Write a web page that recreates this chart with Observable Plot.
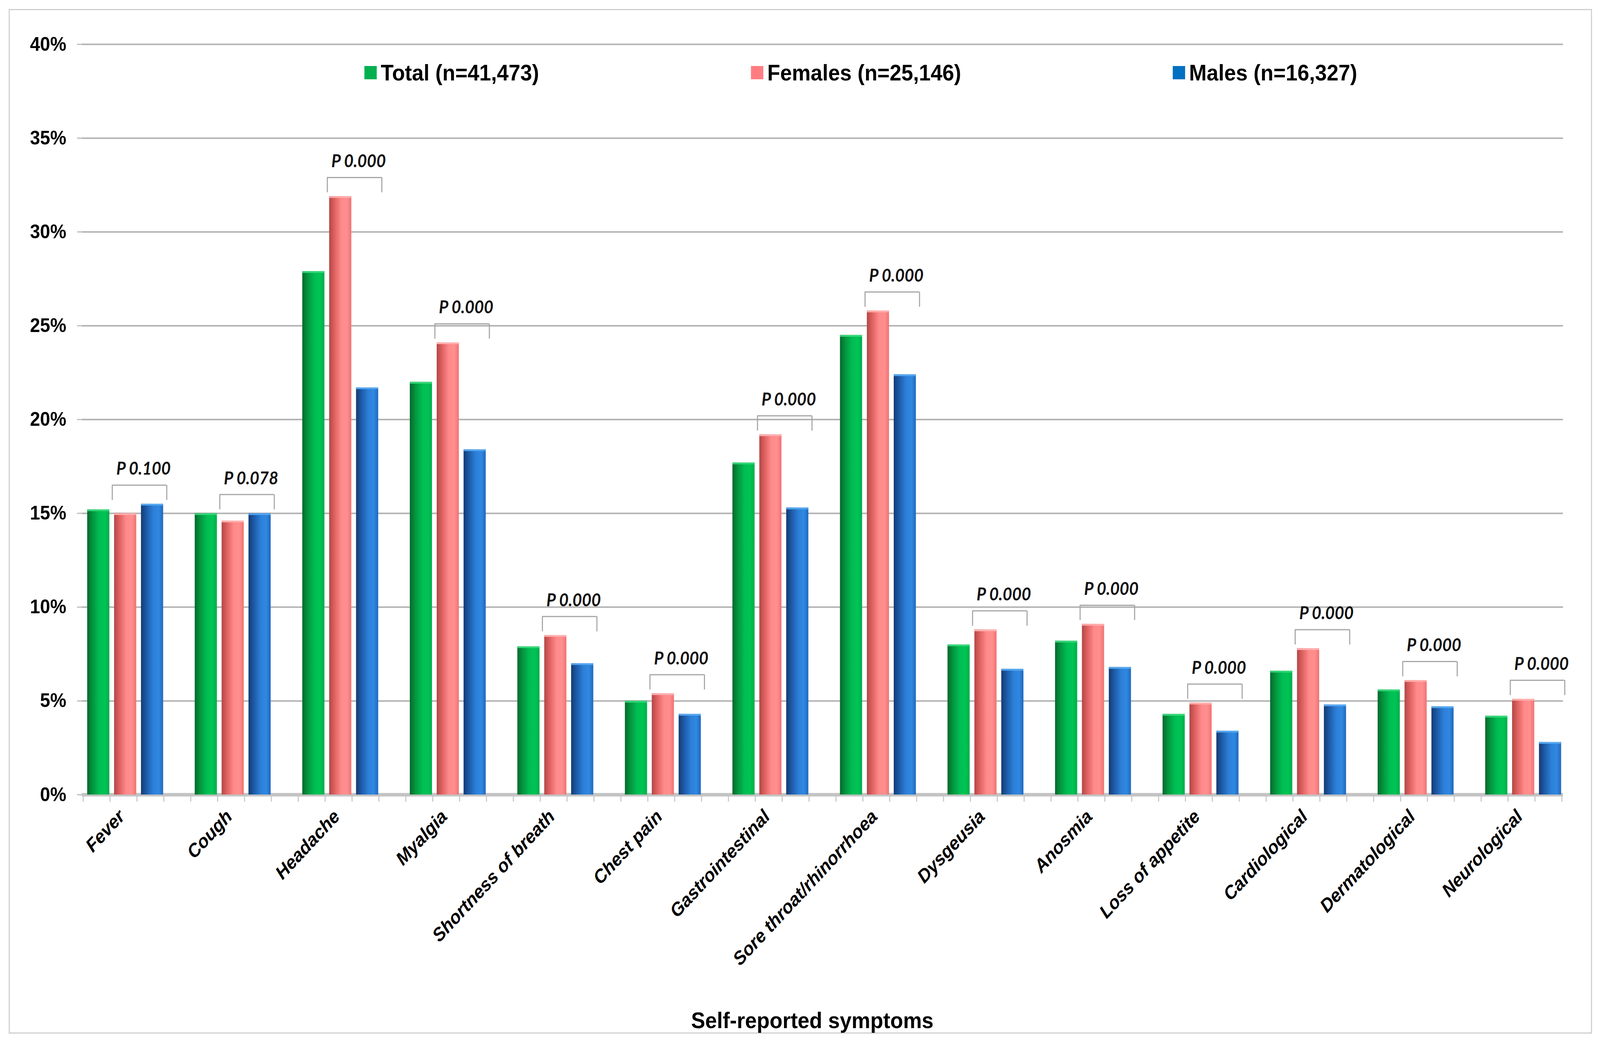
<!DOCTYPE html>
<html>
<head>
<meta charset="utf-8">
<script src="https://cdn.jsdelivr.net/npm/d3@7"></script>
<script src="https://cdn.jsdelivr.net/npm/@observablehq/plot@0.6"></script>
<style>
  html, body { margin: 0; padding: 0; background: #fff; overflow: hidden; }
  #outer { position: relative; width: 4404px; height: 2688px; overflow: hidden; }
  #wrap { position: absolute; left: 0; top: 0; width: 4404px; height: 2688px; background: #fff; transform-origin: 0 0;
    font-family: "Liberation Sans", Arial, sans-serif; }
  #border { position: absolute; left: 24px; top: 23px; width: 4358px; height: 2623px; border: 3px solid #cfcfcf; box-sizing: border-box; }
  #wrap svg { position: absolute; left: 0; top: 0; max-width: none; }
  .lg-sw { position: absolute; width: 34px; height: 34px; top: 169px; }
  .lg-tx { position: absolute; top: 186px; transform: translateY(-50%); font-size: 58px; font-weight: bold; color: #000; white-space: nowrap; line-height: 1; }
  #xtitle { position: absolute; left: 2236px; top: 2612px; transform: translate(-50%, -50%); font-size: 58px; font-weight: bold; color: #000; white-space: nowrap; line-height: 1; }
</style>
</head>
<body>
<div id="outer">
  <div id="wrap">
    <div id="border"></div>
  </div>
</div>
<script>
const symptoms = ["Fever", "Cough", "Headache", "Myalgia", "Shortness of breath", "Chest pain",
  "Gastrointestinal", "Sore throat/rhinorrhoea", "Dysgeusia", "Anosmia", "Loss of appetite",
  "Cardiological", "Dermatological", "Neurological"]
const total   = [15.2, 15.0, 27.9, 22.0, 7.9, 5.0, 17.7, 24.5, 8.0, 8.2, 4.3, 6.6, 5.6, 4.2]
const females = [15.0, 14.6, 31.9, 24.1, 8.5, 5.4, 19.2, 25.8, 8.8, 9.1, 4.9, 7.8, 6.1, 5.1]
const males   = [15.5, 15.0, 21.7, 18.4, 7.0, 4.3, 15.3, 22.4, 6.7, 6.8, 3.4, 4.8, 4.7, 2.8]
const pValues = ["0.100", "0.078", "0.000", "0.000", "0.000", "0.000", "0.000",
  "0.000", "0.000", "0.000", "0.000", "0.000", "0.000", "0.000"]
const series = ["Total", "Females", "Males"]
const seriesLabels = ["Total (n=41,473)", "Females (n=25,146)", "Males (n=16,327)"]
const yTicks = [0, 5, 10, 15, 20, 25, 30, 35, 40]

const legendColors = ["#00b050", "#ff7c80", "#0070c0"]
const capColors = ["#37d97a", "#ffb0b0", "#55a8f0"]
const gradients = [
  ["#07682c", "#03963f", "#00bd52", "#00c455", "#00ad4a"],
  ["#b44646", "#e06262", "#ff8a8a", "#ff8f8f", "#f07272"],
  ["#153b73", "#1d5ba8", "#2c7fd8", "#3088e0", "#2068bf"]
]

const key = (s, k) => s + "|" + k

// x domain: three slots per symptom plus one spacer slot between groups
const domain = []
symptoms.forEach((s, i) => {
  series.forEach(k => domain.push(key(s, k)))
  if (i < symptoms.length - 1) domain.push(key(s, "gap"))
})

const values = [total, females, males]
const rows = []
series.forEach((k, j) => {
  symptoms.forEach((s, i) => rows.push({symptom: s, series: k, key: key(s, k), value: values[j][i]}))
})

const pRows = symptoms.map((s, i) => {
  const m = Math.max(females[i], males[i])
  return {symptom: s, p: pValues[i], top: m + 1.0, leg: m + 0.2}
})

const font = "Liberation Sans, Arial, sans-serif"
const bracketColor = "#a6a6a6"

const chart = Plot.plot({
  width: 4404,
  height: 2688,
  marginLeft: 225,
  marginRight: 102,
  marginTop: 113,
  marginBottom: 654,
  style: {fontFamily: font, background: "transparent", overflow: "visible"},
  x: {domain, paddingInner: 0.17, paddingOuter: 0.085, axis: null},
  y: {domain: [0, 40], axis: null},
  marks: [
    Plot.gridY(yTicks, {stroke: "#b4b4b4", strokeOpacity: 1, strokeWidth: 4}),
    Plot.axisY(yTicks, {
      tickFormat: d => d + "%", tickSize: 13, tickPadding: 30, fontSize: 50, fontWeight: "bold",
      stroke: "#bdbdbd", strokeWidth: 3, fill: "#000", line: true, label: null
    }),
    // small category-axis ticks below the baseline, one at each slot edge
    Plot.ruleX(domain, {x: d => d, y1: 0, y2: -0.38, dx: -37, stroke: "#c8c8c8", strokeWidth: 3}),
    Plot.ruleX(domain.slice(-1), {x: d => d, y1: 0, y2: -0.38, dx: 37, stroke: "#c8c8c8", strokeWidth: 3}),
    Plot.ruleY([0], {stroke: "#c4c4c4", strokeWidth: 9}),
    ...series.map((k, j) => Plot.barY(rows.filter(d => d.series === k), {
      x: "key", y: "value", fill: `url(#grad${j})`, dx: 5
    })),
    ...series.map((k, j) => Plot.tickY(rows.filter(d => d.series === k), {
      x: "key", y: "value", stroke: capColors[j], strokeWidth: 4, dx: 5, dy: 2
    })),
    Plot.ruleY(pRows, {
      x1: d => key(d.symptom, "Females"), x2: d => key(d.symptom, "Males"), y: "top",
      insetLeft: -1, insetRight: -14, stroke: bracketColor, strokeWidth: 3
    }),
    Plot.ruleX(pRows, {x: d => key(d.symptom, "Females"), y1: "leg", y2: "top", dx: -31, stroke: bracketColor, strokeWidth: 3}),
    Plot.ruleX(pRows, {x: d => key(d.symptom, "Males"), y1: "leg", y2: "top", dx: 45, stroke: bracketColor, strokeWidth: 3}),
    Plot.text(pRows, {
      x: d => key(d.symptom, "Females"), y: "top", text: d => "P " + d.p, dx: 55, dy: -41,
      fontFamily: "Lato, sans-serif", fontSize: 45, fontWeight: "bold", fontStyle: "italic", fill: "#111"
    }),
    Plot.text(symptoms, {
      x: d => key(d, "Females"), y: () => 0, text: d => d, rotate: -45, textAnchor: "end",
      dx: -5, dy: 48, fontSize: 48, fontWeight: "bold", fontStyle: "italic", fill: "#000"
    })
  ]
})

// cylinder-like shading for the bars
const defs = d3.select(chart).insert("defs", ":first-child")
gradients.forEach((stops, j) => {
  const g = defs.append("linearGradient").attr("id", "grad" + j)
    .attr("x1", "0").attr("x2", "1").attr("y1", "0").attr("y2", "0")
  const offs = [0, 0.25, 0.55, 0.8, 1]
  stops.forEach((c, i) => g.append("stop").attr("offset", offs[i]).attr("stop-color", c))
})

const outer = document.getElementById("outer")
const wrap = document.getElementById("wrap")
wrap.appendChild(chart)

// legend, placed inside the plot area like the original
const legendX = [1003, 2067, 3228]
seriesLabels.forEach((t, j) => {
  const sw = document.createElement("div")
  sw.className = "lg-sw"
  sw.style.left = legendX[j] + "px"
  sw.style.background = legendColors[j]
  wrap.appendChild(sw)
  const tx = document.createElement("div")
  tx.className = "lg-tx"
  tx.style.left = (legendX[j] + 45) + "px"
  tx.textContent = t
  wrap.appendChild(tx)
})

const xt = document.createElement("div")
xt.id = "xtitle"
xt.textContent = "Self-reported symptoms"
wrap.appendChild(xt)

// the window may be narrower than 4404px: stretch the figure to fill the viewport
function fit() {
  const sx = Math.min(1, window.innerWidth / 4404)
  const sy = Math.min(1, window.innerHeight / 2688)
  wrap.style.transform = (sx < 1 || sy < 1) ? `scale(${sx}, ${sy})` : ""
  outer.style.width = (4404 * sx) + "px"
  outer.style.height = (2688 * sy) + "px"
}
fit()
window.addEventListener("resize", fit)
</script>
</body>
</html>
